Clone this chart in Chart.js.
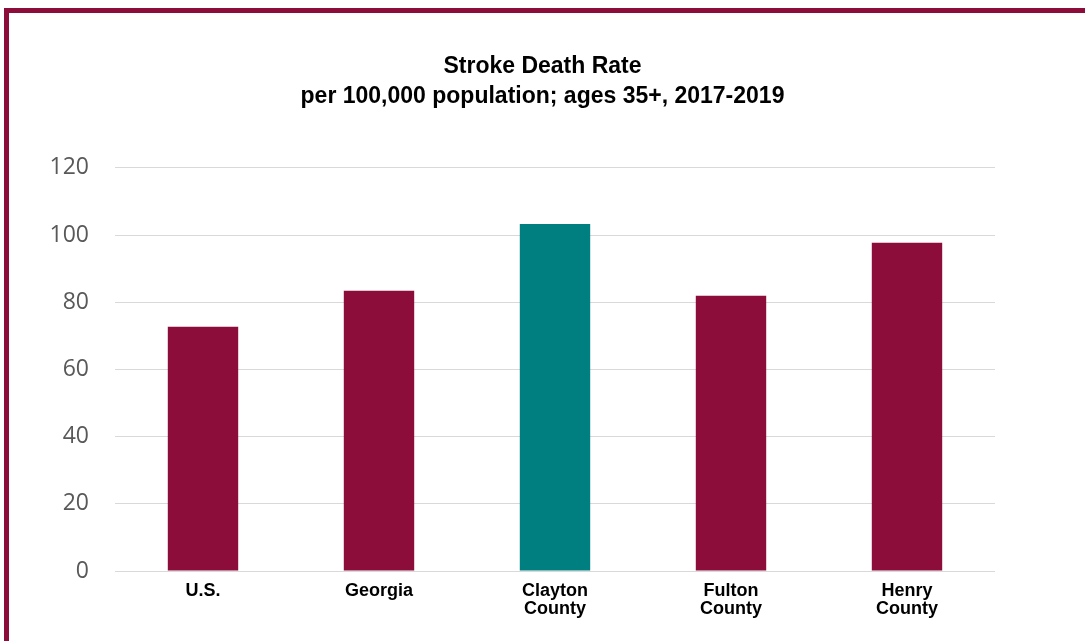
<!DOCTYPE html>
<html lang="en">
  <head>
    <meta charset="UTF-8" />
    <title>Stroke Death Rate</title>
    <script src="https://cdn.jsdelivr.net/npm/chart.js"></script>
    <style>
      html,
      body {
        margin: 0;
        padding: 0;
        width: 1085px;
        height: 641px;
        overflow: hidden;
        background: #fff;
      }
      .frame {
        position: absolute;
        left: 4px;
        top: 8px;
        width: 2000px;
        height: 2000px;
        border-left: 5px solid #8c0c3a;
        border-top: 5px solid #8c0c3a;
      }
      .wrap {
        position: absolute;
        left: 0;
        top: 0;
        width: 1085px;
        height: 641px;
      }
    </style>
  </head>
  <body>
    <div class="frame"></div>
    <div class="wrap">
      <canvas id="chart"></canvas>
    </div>

    <script>
      const categories = ["U.S.", "Georgia", ["Clayton", "County"], ["Fulton", "County"], ["Henry", "County"]];
      const rates = [72.7, 83.4, 103.3, 81.9, 97.7];
      const barColors = ["#8c0c3a", "#8c0c3a", "#007f80", "#8c0c3a", "#8c0c3a"];
      const titleLines = ["Stroke Death Rate", "per 100,000 population; ages 35+, 2017-2019"];

      const ctx = document.getElementById("chart").getContext("2d");
      new Chart(ctx, {
        type: "bar",
        data: {
          labels: categories,
          datasets: [
            {
              label: "Stroke death rate",
              data: rates,
              backgroundColor: barColors,
              categoryPercentage: 1,
              barPercentage: 0.4,
            },
          ],
        },
        options: {
          responsive: true,
          maintainAspectRatio: false,
          animation: false,
          layout: { padding: 0 },
          plugins: {
            legend: { display: false },
            tooltip: { enabled: false },
            title: {
              display: true,
              text: titleLines,
              color: "#000",
              font: { family: "Liberation Sans, Arial", size: 23, weight: "bold", lineHeight: 1.3 },
              padding: { top: 52, bottom: 56 },
            },
          },
          scales: {
            x: {
              grid: { display: false, drawTicks: false },
              border: { display: false },
              ticks: {
                color: "#000",
                padding: 11,
                maxRotation: 0,
                font: { family: "Liberation Sans, Arial", size: 18, weight: "bold", lineHeight: 1.0 },
              },
              afterFit: (scale) => {
                scale.height = 70;
              },
            },
            y: {
              min: 0,
              max: 120,
              ticks: {
                stepSize: 20,
                color: "#595959",
                padding: 26,
                font: { family: "Open Sans", size: 23 },
              },
              grid: { color: "#d9d9d9", lineWidth: 1, drawTicks: false },
              border: { display: false },
              afterFit: (scale) => {
                scale.width = 115;
              },
            },
            // empty right-hand margin so the title centres on the full width
            yRight: {
              position: "right",
              min: 0,
              max: 120,
              grid: { display: false, drawTicks: false },
              border: { display: false },
              ticks: { display: false },
              afterFit: (scale) => {
                scale.width = 90;
              },
            },
          },
        },
      });
    </script>
  </body>
</html>
